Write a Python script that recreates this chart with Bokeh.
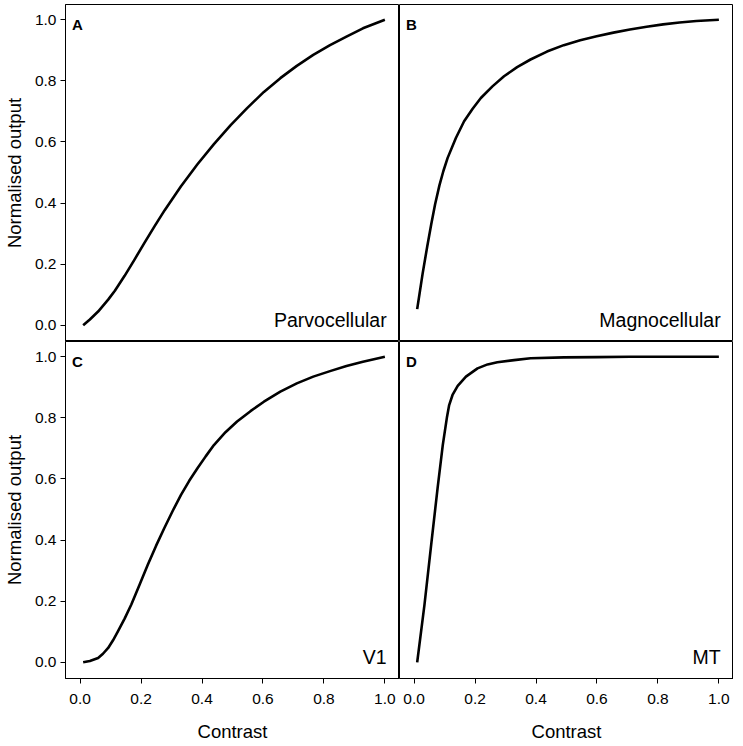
from bokeh.plotting import figure
from bokeh.layouts import gridplot
from bokeh.models import Range1d, FixedTicker, NumeralTickFormatter, Label
from bokeh.embed import file_html
from bokeh.resources import INLINE

# ---- data ----
parvo_c = [0.010, 0.032, 0.059, 0.092, 0.114, 0.146, 0.179, 0.211, 0.244, 0.277, 0.331, 0.385,
           0.439, 0.494, 0.548, 0.603, 0.657, 0.711, 0.765, 0.820, 0.874, 0.928, 1.0]
parvo_v = [0.0, 0.019, 0.045, 0.084, 0.113, 0.162, 0.216, 0.270, 0.324, 0.376, 0.455, 0.527,
           0.593, 0.655, 0.711, 0.764, 0.809, 0.849, 0.885, 0.917, 0.945, 0.972, 1.0]

magno_c = [0.010, 0.018, 0.028, 0.043, 0.056, 0.069, 0.083, 0.096, 0.110, 0.137, 0.164, 0.192,
           0.219, 0.257, 0.295, 0.338, 0.382, 0.436, 0.491, 0.545, 0.599, 0.654, 0.708, 0.763,
           0.817, 0.871, 0.926, 1.0]
magno_v = [0.053, 0.105, 0.170, 0.258, 0.330, 0.397, 0.458, 0.505, 0.548, 0.613, 0.668, 0.709,
           0.744, 0.782, 0.815, 0.845, 0.870, 0.896, 0.917, 0.933, 0.946, 0.958, 0.968, 0.977,
           0.985, 0.991, 0.996, 1.0]

v1_c = [0.010, 0.032, 0.059, 0.075, 0.092, 0.108, 0.124, 0.146, 0.168, 0.195, 0.222, 0.249,
        0.276, 0.304, 0.331, 0.358, 0.385, 0.412, 0.439, 0.477, 0.515, 0.559, 0.603, 0.657,
        0.711, 0.765, 0.820, 0.874, 0.928, 1.0]
v1_v = [0.0, 0.004, 0.014, 0.028, 0.047, 0.072, 0.101, 0.143, 0.189, 0.254, 0.319, 0.381,
        0.439, 0.496, 0.548, 0.594, 0.635, 0.674, 0.711, 0.753, 0.788, 0.822, 0.853, 0.886,
        0.913, 0.935, 0.953, 0.970, 0.984, 1.0]

mt_c = [0.010, 0.034, 0.056, 0.077, 0.094, 0.108, 0.115, 0.126, 0.143, 0.170, 0.208, 0.241,
        0.273, 0.328, 0.382, 0.491, 0.599, 0.708, 1.0]
mt_v = [0.0, 0.189, 0.385, 0.570, 0.711, 0.804, 0.842, 0.875, 0.905, 0.935, 0.962, 0.975,
        0.982, 0.989, 0.995, 0.998, 0.999, 1.0, 1.0]

panel_letters = ["A", "B", "C", "D"]
panel_names = ["Parvocellular", "Magnocellular", "V1", "MT"]
tick_values = [0.0, 0.2, 0.4, 0.6, 0.8, 1.0]
x_label = "Contrast"
y_label = "Normalised output"

FONT = "Liberation Sans"


def make_panel(row, col, cx, cy, letter, name):
    has_y = col == 0
    has_x = row == 1
    p = figure(
        frame_width=334, frame_height=337,
        output_backend="svg", toolbar_location=None,
        x_range=Range1d(-0.048, 1.048), y_range=Range1d(-0.053, 1.05),
        x_axis_location="below" if has_x else None,
        y_axis_location="left" if has_y else None,
        min_border=0,
    )
    if row == 0:
        p.min_border_top = 4
    p.outline_line_color = "black"
    p.outline_line_width = 1
    p.outline_line_alpha = 1.0
    p.background_fill_color = "white"
    p.border_fill_color = "white"
    p.xgrid.visible = False
    p.ygrid.visible = False

    for ax, lab, is_x in ((p.xaxis, x_label, True), (p.yaxis, y_label, False)):
        ax.ticker = FixedTicker(ticks=tick_values)
        ax.formatter = NumeralTickFormatter(format="0.0")
        ax.axis_line_color = "black"
        ax.major_tick_line_color = "black"
        ax.major_tick_out = 5
        ax.major_tick_in = 0
        ax.minor_tick_line_color = None
        ax.major_label_text_font = FONT
        ax.major_label_text_font_size = "15.5px"
        ax.major_label_text_color = "black"
        ax.axis_label = lab
        ax.axis_label_text_font = FONT
        ax.axis_label_text_font_size = "18.5px"
        ax.axis_label_text_font_style = "normal"
        ax.axis_label_text_color = "black"
        if is_x:
            ax.major_label_standoff = 10
            ax.axis_label_standoff = 14
        else:
            ax.major_label_standoff = 4
            ax.axis_label_standoff = 7

    p.line(cx, cy, line_color="black", line_width=2.6, line_join="round")

    p.add_layout(Label(x=-0.027, y=0.985, text=letter, text_align="left",
                       text_baseline="alphabetic", text_font=FONT,
                       text_font_size="15px", text_font_style="bold",
                       text_color="black"))
    p.add_layout(Label(x=1.006, y=0.017, text=name, text_align="right",
                       text_baseline="alphabetic", text_font=FONT,
                       text_font_size="19.5px", text_color="black"))
    return p


pA = make_panel(0, 0, parvo_c, parvo_v, panel_letters[0], panel_names[0])
pB = make_panel(0, 1, magno_c, magno_v, panel_letters[1], panel_names[1])
pC = make_panel(1, 0, v1_c, v1_v, panel_letters[2], panel_names[2])
pD = make_panel(1, 1, mt_c, mt_v, panel_letters[3], panel_names[3])

grid = gridplot([[pA, pB], [pC, pD]], toolbar_location=None)

open("out.html", "w").write(file_html(grid, INLINE))
